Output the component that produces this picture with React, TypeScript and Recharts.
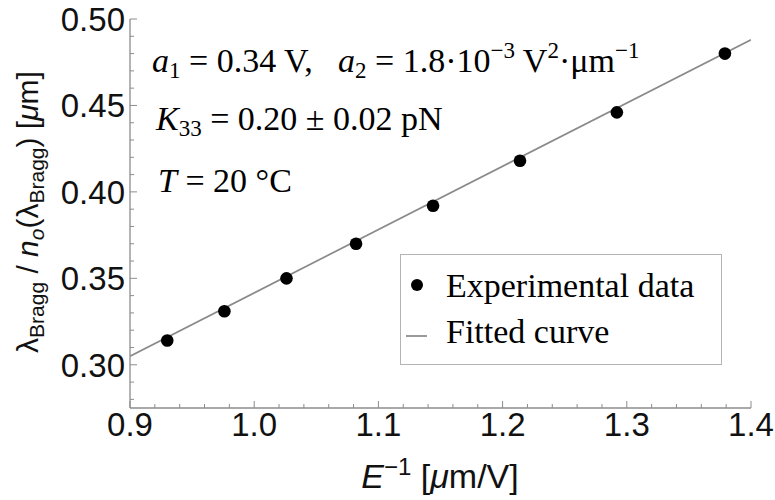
import { ComposedChart, Scatter, Line, XAxis, YAxis, Legend, Label } from "recharts";

// measured points: inverse field E^-1 (um/V) vs lambda_Bragg / n_o (um)
const inverseField = [0.93, 0.976, 1.026, 1.082, 1.144, 1.214, 1.292, 1.379];
const braggRatio = [0.314, 0.331, 0.35, 0.37, 0.392, 0.418, 0.446, 0.48];

// fitted curve read at the frame edges
const fitInverseField = [0.9, 1.4];
const fitBraggRatio = [0.305, 0.488];

const xTicks = [
  0.9, 0.92, 0.94, 0.96, 0.98, 1.0, 1.02, 1.04, 1.06, 1.08, 1.1, 1.12, 1.14, 1.16, 1.18, 1.2,
  1.22, 1.24, 1.26, 1.28, 1.3, 1.32, 1.34, 1.36, 1.38, 1.4,
];
const yTicks = [
  0.28, 0.29, 0.3, 0.31, 0.32, 0.33, 0.34, 0.35, 0.36, 0.37, 0.38, 0.39, 0.4, 0.41, 0.42, 0.43,
  0.44, 0.45, 0.46, 0.47, 0.48, 0.49, 0.5,
];

const points = inverseField.map((x, i) => ({ x, y: braggRatio[i] }));
const fitted = fitInverseField.map((x, i) => ({ x, y: fitBraggRatio[i] }));

const FRAME = "#8c8c8c";
const SANS = "'Liberation Sans', Arial, sans-serif";
const SERIF = "'Liberation Serif', 'Times New Roman', serif";

const onStep = (v: number, step: number) => Math.abs(v / step - Math.round(v / step)) < 1e-6;

type Side = "bottom" | "top" | "left" | "right";

const makeTick = (side: Side) => (props: any) => {
  const { x, y, payload } = props;
  const v = payload.value as number;
  const vertical = side === "left" || side === "right";
  const major = vertical ? onStep(v, 0.05) : onStep(v, 0.1);
  const len = major ? 7 : 4;
  let x2 = x;
  let y2 = y;
  if (side === "bottom") y2 = y - len;
  if (side === "top") y2 = y + len;
  if (side === "left") x2 = x + len;
  if (side === "right") x2 = x - len;
  return (
    <g>
      <line x1={x} y1={y} x2={x2} y2={y2} stroke={FRAME} strokeWidth={1} />
      {major && side === "bottom" && (
        <text x={x} y={y + 28} textAnchor="middle" fontFamily={SANS} fontSize={33} fill="#111">
          {v.toFixed(1)}
        </text>
      )}
      {major && side === "left" && (
        <text x={x - 5} y={y + 12} textAnchor="end" fontFamily={SANS} fontSize={33} fill="#111">
          {v.toFixed(2)}
        </text>
      )}
    </g>
  );
};

const Dot = (props: any) => <circle cx={props.cx} cy={props.cy} r={6.3} fill="#000" />;

const LegendBox = () => (
  <svg width={322} height={111} style={{ display: "block" }}>
    <rect x={0.5} y={0.5} width={321} height={110} fill="#fff" stroke="#b4b4b4" />
    <circle cx={17} cy={31} r={6} fill="#000" />
    <text x={46} y={43} fontFamily={SERIF} fontSize={34} fill="#000">
      Experimental data
    </text>
    <line x1={6} y1={82} x2={27} y2={82} stroke="#999" strokeWidth={2} />
    <text x={46} y={89} fontFamily={SERIF} fontSize={34} fill="#000">
      Fitted curve
    </text>
  </svg>
);

const YTitle = () => (
  <text
    x={38}
    y={212}
    transform="rotate(-90, 38, 212)"
    textAnchor="middle"
    fontFamily={SANS}
    fontSize={30}
    fill="#111"
  >
    <tspan>λ</tspan>
    <tspan fontSize={21} dy={6}>Bragg</tspan>
    <tspan dy={-6}> / </tspan>
    <tspan fontStyle="italic">n</tspan>
    <tspan fontSize={21} dy={6} fontStyle="italic">o</tspan>
    <tspan dy={-6}>(λ</tspan>
    <tspan fontSize={21} dy={6}>Bragg</tspan>
    <tspan dy={-6}>) [</tspan>
    <tspan fontStyle="italic">μ</tspan>
    <tspan>m]</tspan>
  </text>
);

const XTitle = () => (
  <text x={440} y={488} textAnchor="middle" fontFamily={SANS} fontSize={34} fill="#111">
    <tspan fontStyle="italic">E</tspan>
    <tspan fontSize={24} dy={-13}>−1</tspan>
    <tspan dy={13}> [</tspan>
    <tspan fontStyle="italic">μ</tspan>
    <tspan>m/V]</tspan>
  </text>
);

export default function App() {
  return (
    <div style={{ position: "absolute", left: 0, top: 0, width: 775, height: 500, background: "#fff" }}>
      <ComposedChart width={775} height={500} margin={{ top: 19, right: 24, bottom: 0, left: 0 }}>
        <XAxis
          xAxisId="top"
          orientation="top"
          type="number"
          dataKey="x"
          domain={[0.9, 1.4]}
          allowDataOverflow
          ticks={xTicks}
          interval={0}
          height={0}
          tickSize={0}
          tickMargin={0}
          tickLine={false}
          axisLine={{ stroke: FRAME, strokeWidth: 1.3 }}
          tick={makeTick("top")}
        />
        <XAxis
          type="number"
          dataKey="x"
          domain={[0.9, 1.4]}
          allowDataOverflow
          ticks={xTicks}
          interval={0}
          height={92}
          tickSize={0}
          tickMargin={0}
          tickLine={false}
          axisLine={{ stroke: FRAME, strokeWidth: 1.3 }}
          tick={makeTick("bottom")}
        >
          <Label content={() => <XTitle />} />
        </XAxis>
        <YAxis
          type="number"
          dataKey="y"
          domain={[0.275, 0.5]}
          allowDataOverflow
          ticks={yTicks}
          interval={0}
          width={130}
          tickSize={0}
          tickMargin={0}
          tickLine={false}
          axisLine={{ stroke: FRAME, strokeWidth: 1.3 }}
          tick={makeTick("left")}
        >
          <Label content={() => <YTitle />} />
        </YAxis>
        <YAxis
          yAxisId="right"
          orientation="right"
          type="number"
          dataKey="y"
          domain={[0.275, 0.5]}
          allowDataOverflow
          ticks={yTicks}
          interval={0}
          width={0}
          tickSize={0}
          tickMargin={0}
          tickLine={false}
          axisLine={{ stroke: FRAME, strokeWidth: 1.3 }}
          tick={makeTick("right")}
        />
        <Line
          data={fitted}
          dataKey="y"
          stroke="#8a8a8a"
          strokeWidth={1.7}
          dot={false}
          activeDot={false}
          isAnimationActive={false}
          legendType="line"
          name="Fitted curve"
        />
        <Scatter
          data={points}
          dataKey="y"
          shape={<Dot />}
          isAnimationActive={false}
          name="Experimental data"
        />
        <Legend
          layout="vertical"
          verticalAlign="middle"
          align="center"
          content={() => <LegendBox />}
          wrapperStyle={{ left: 400, top: 254, width: 322, height: 111 }}
        />
      </ComposedChart>
      <svg
        width={775}
        height={500}
        style={{ position: "absolute", left: 0, top: 0, pointerEvents: "none" }}
      >
        <g fontFamily={SERIF} fontSize={34} fill="#000">
          <text x={152} y={72}>
            <tspan fontStyle="italic">a</tspan>
            <tspan fontSize={23} dy={6}>1</tspan>
            <tspan dy={-6}> = 0.34 V,</tspan>
          </text>
          <text x={338} y={72}>
            <tspan fontStyle="italic">a</tspan>
            <tspan fontSize={23} dy={6}>2</tspan>
            <tspan dy={-6}> = 1.8·10</tspan>
            <tspan fontSize={23} dy={-14}>−3</tspan>
            <tspan dy={14}> V</tspan>
            <tspan fontSize={23} dy={-14}>2</tspan>
            <tspan dy={14}>·μm</tspan>
            <tspan fontSize={23} dy={-14}>−1</tspan>
          </text>
          <text x={156} y={130}>
            <tspan fontStyle="italic">K</tspan>
            <tspan fontSize={23} dy={6}>33</tspan>
            <tspan dy={-6}> = 0.20 ± 0.02 pN</tspan>
          </text>
          <text x={158} y={192}>
            <tspan fontStyle="italic">T</tspan>
            <tspan> = 20 °C</tspan>
          </text>
        </g>
      </svg>
    </div>
  );
}
